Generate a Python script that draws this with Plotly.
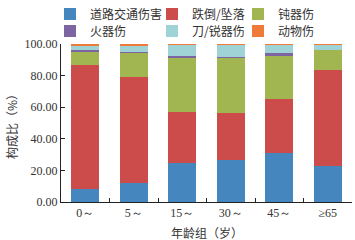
import plotly.graph_objects as go

categories = ["0～", "5～", "15～", "30～", "45～", "≥65"]
series_names = ["道路交通伤害", "跌倒/坠落", "钝器伤", "火器伤", "刀/锐器伤", "动物伤"]
traffic = [8.5, 12.3, 24.7, 26.4, 30.7, 23.0]
fall = [78.0, 66.8, 32.4, 29.8, 34.2, 60.7]
blunt = [9.0, 15.8, 34.5, 35.4, 28.1, 12.7]
firearm = [0.8, 0.2, 0.9, 0.2, 1.0, 0.1]
sharp = [2.4, 3.8, 6.9, 7.6, 5.4, 3.1]
animal = [1.3, 1.1, 0.6, 0.6, 0.6, 0.4]
colors = ["#4686BF", "#CC4C4B", "#A1B651", "#7D64A3", "#9FD3D5", "#EF7B3B"]
x_title = "年龄组（岁）"
y_title = "构成比（%）"

series = [traffic, fall, blunt, firearm, sharp, animal]
legend_ids = ["legend", "legend2", "legend3", "legend4", "legend5", "legend6"]

fig = go.Figure()
for name, vals, c, lid in zip(series_names, series, colors, legend_ids):
    fig.add_trace(go.Bar(
        x=categories, y=vals, name=name, marker_color=c,
        marker_line_width=0, legend=lid,
    ))

serif = "Liberation Serif"
cjk = "Noto Sans CJK SC"

# legend positions (container pixels of text start / row centre)
text_left = [90, 192, 278, 90, 192, 278]
row_y = [14, 14, 14, 31, 31, 31]

legend_layout = {}
for lid, tx, ry in zip(legend_ids, text_left, row_y):
    legend_layout[lid] = dict(
        orientation="v", xref="container", yref="container",
        x=(tx - 40) / 355, y=1 - ry / 240, xanchor="left", yanchor="middle",
        font=dict(family=cjk, size=12, color="#333"),
        bgcolor="rgba(0,0,0,0)", borderwidth=0,
    )

fig.update_layout(
    barmode="stack",
    bargap=0.42,
    width=355, height=240,
    margin=dict(l=61, r=3, t=44, b=38, autoexpand=False),
    paper_bgcolor="white", plot_bgcolor="white",
    showlegend=True,
    **legend_layout,
    xaxis=dict(
        showline=True, linecolor="#222", linewidth=1,
        ticks="inside", ticklen=4, tickcolor="#222", tickson="boundaries",
        tickfont=dict(family=serif, size=12, color="#333"),
    ),
    yaxis=dict(
        range=[0, 100], dtick=20, tickformat=".2f",
        showline=True, linecolor="#222", linewidth=1,
        ticks="inside", ticklen=4, tickcolor="#222",
        showgrid=False, zeroline=False,
        tickfont=dict(family=serif, size=12, color="#333"),
    ),
    annotations=[
        dict(text=x_title, xref="paper", yref="paper", x=0.5, y=-0.19,
             xanchor="center", yanchor="middle", showarrow=False,
             font=dict(family=cjk, size=12, color="#333")),
        dict(text=y_title, xref="paper", yref="paper", x=-0.172, y=0.5,
             xanchor="center", yanchor="middle", showarrow=False, textangle=-90,
             font=dict(family=cjk, size=12, color="#333")),
    ],
)

fig.write_html("out.html", config={"displayModeBar": False},
               post_script="document.body.style.margin='0';")
